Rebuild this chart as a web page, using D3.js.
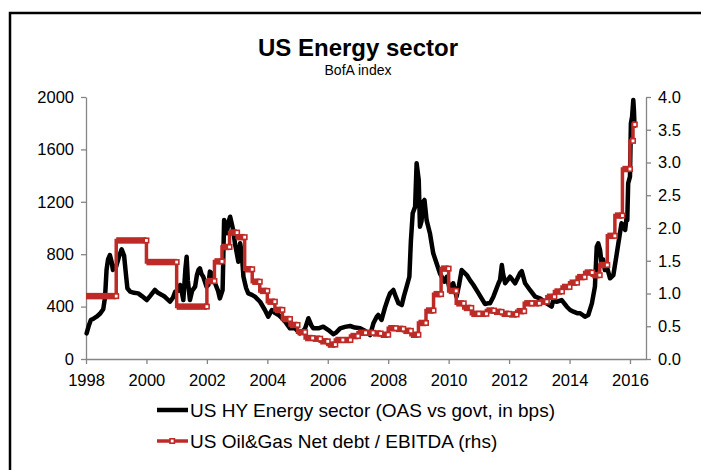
<!DOCTYPE html>
<html>
<head>
<meta charset="utf-8">
<script src="https://cdn.jsdelivr.net/npm/d3@7"></script>
<style>
  body { margin: 0; background: #fff; }
  svg { display: block; }
  text { font-family: "Liberation Sans", Arial, sans-serif; fill: #000; }
</style>
</head>
<body>
<svg id="chart" width="701" height="470"></svg>
<script>
// US HY Energy sector option-adjusted spread (bps), by decimal year
const oasYears = [
  1998.02, 1998.10, 1998.16, 1998.26, 1998.35, 1998.46, 1998.57, 1998.63, 1998.68, 1998.73,
  1998.79, 1998.85, 1998.89, 1998.99, 1999.09, 1999.18, 1999.26, 1999.32, 1999.37, 1999.46,
  1999.59, 1999.73, 1999.85, 2000.01, 2000.12, 2000.28, 2000.38, 2000.51, 2000.61, 2000.78,
  2000.88, 2000.95, 2001.04, 2001.11, 2001.17, 2001.22, 2001.29, 2001.33, 2001.37, 2001.44,
  2001.51, 2001.61, 2001.67, 2001.72, 2001.77, 2001.82, 2001.88, 2001.99, 2002.05, 2002.10,
  2002.16, 2002.27, 2002.37, 2002.43, 2002.52, 2002.57, 2002.62, 2002.66, 2002.72, 2002.77,
  2002.87, 2002.93, 2002.99, 2003.04, 2003.10, 2003.15, 2003.21, 2003.30, 2003.37, 2003.49,
  2003.59, 2003.76, 2003.92, 2004.03, 2004.15, 2004.26, 2004.37, 2004.49, 2004.59, 2004.75,
  2004.92, 2005.08, 2005.18, 2005.25, 2005.36, 2005.45, 2005.52, 2005.69, 2005.85, 2006.02,
  2006.18, 2006.27, 2006.41, 2006.57, 2006.74, 2006.90, 2007.07, 2007.23, 2007.40, 2007.51,
  2007.62, 2007.67, 2007.78, 2007.89, 2007.99, 2008.06, 2008.17, 2008.26, 2008.34, 2008.45,
  2008.52, 2008.61, 2008.70, 2008.75, 2008.81, 2008.89, 2008.94, 2009.01, 2009.05, 2009.10,
  2009.16, 2009.20, 2009.27, 2009.38, 2009.49, 2009.60, 2009.71, 2009.86, 2009.94, 2010.04,
  2010.15, 2010.26, 2010.34, 2010.43, 2010.60, 2010.71, 2010.82, 2010.94, 2011.09, 2011.20,
  2011.31, 2011.37, 2011.48, 2011.57, 2011.65, 2011.70, 2011.76, 2011.80, 2011.87, 2012.03,
  2012.20, 2012.36, 2012.42, 2012.53, 2012.69, 2012.86, 2013.02, 2013.24, 2013.41, 2013.46,
  2013.57, 2013.74, 2013.91, 2014.02, 2014.13, 2014.25, 2014.35, 2014.51, 2014.62, 2014.74,
  2014.84, 2014.90, 2014.95, 2015.01, 2015.06, 2015.11, 2015.17, 2015.24, 2015.34, 2015.45,
  2015.56, 2015.65, 2015.72, 2015.78, 2015.84, 2015.89, 2015.91, 2015.94, 2016.00, 2016.03,
  2016.07, 2016.11, 2016.13, 2016.15
];
const oasSpread = [
  196, 260, 298, 310, 323, 345, 380, 470, 680, 760,
  794, 740, 680, 700, 780, 837, 790, 650, 540, 514,
  505, 501, 480, 450, 480, 527, 505, 489, 475, 437,
  470, 514, 520, 565, 510, 450, 690, 781, 600, 450,
  520, 552, 640, 679, 692, 650, 628, 552, 565, 667,
  654, 578, 520, 463, 527, 1061, 1000, 960, 1050, 1086,
  985, 880, 807, 743, 883, 820, 628, 540, 501, 490,
  476, 437, 374, 323, 374, 350, 336, 310, 285, 234,
  234, 196, 215, 234, 311, 260, 234, 234, 247, 221,
  190, 200, 234, 245, 252, 240, 234, 215, 183, 272,
  323, 336, 298, 390, 460, 501, 527, 470, 425, 412,
  480, 552, 628, 900, 1112, 1163, 1494, 1366, 1010, 1050,
  1201, 1214, 1060, 960, 807, 731, 654, 590, 628, 527,
  578, 476, 560, 679, 641, 600, 565, 520, 463, 420,
  425, 425, 476, 530, 578, 603, 718, 650, 578, 628,
  578, 654, 670, 578, 527, 476, 463, 425, 400, 450,
  437, 450, 399, 374, 361, 350, 349, 323, 336, 425,
  552, 857, 883, 832, 731, 760, 679, 700, 616, 641,
  800, 934, 1036, 1010, 985, 1086, 1060, 1341, 1392, 1799,
  1850, 1977, 1900, 1780
];

// US Oil & Gas net debt / EBITDA: value holds from each start date to the next
const ratioStarts = [
  1998, 1999, 2000, 2001,
  2002.00, 2002.25, 2002.50, 2002.75, 2003.00, 2003.25, 2003.50, 2003.75,
  2004.00, 2004.25, 2004.50, 2004.75, 2005.00, 2005.25, 2005.50, 2005.75,
  2006.00, 2006.25, 2006.50, 2006.75, 2007.00, 2007.25, 2007.50, 2007.75,
  2008.00, 2008.25, 2008.50, 2008.75, 2009.00, 2009.25, 2009.50, 2009.75,
  2010.00, 2010.25, 2010.50, 2010.75, 2011.00, 2011.25, 2011.50, 2011.75,
  2012.00, 2012.25, 2012.50, 2012.75, 2013.00, 2013.25, 2013.50, 2013.75,
  2014.00, 2014.25, 2014.50, 2014.75, 2015.00, 2015.25, 2015.50, 2015.75,
  2016.00, 2016.10
];
const ratioValues = [
  0.96, 1.81, 1.48, 0.80,
  1.19, 1.49, 1.71, 1.93, 1.86, 1.37, 1.18, 1.04,
  0.875, 0.75, 0.61, 0.52, 0.41, 0.32, 0.31, 0.27,
  0.22, 0.29, 0.29, 0.35, 0.40, 0.40, 0.39, 0.37,
  0.47, 0.46, 0.43, 0.37, 0.55, 0.74, 0.99, 1.38,
  1.04, 0.85, 0.78, 0.69, 0.69, 0.74, 0.72, 0.69,
  0.68, 0.73, 0.85, 0.85, 0.875, 0.95, 1.03, 1.10,
  1.165, 1.25, 1.32, 1.28, 1.435, 1.88, 2.19, 2.90,
  3.33, 3.58
];
const ratioLastDate = 2016.16;

const spreadTicks = [0, 400, 800, 1200, 1600, 2000];
const ratioTicks = [0, 0.5, 1, 1.5, 2, 2.5, 3, 3.5, 4];
const yearTicks = [1998, 2000, 2002, 2004, 2006, 2008, 2010, 2012, 2014, 2016];

const titleText = "US Energy sector";
const subtitleText = "BofA index";
const seriesNames = [
  "US HY Energy sector (OAS vs govt, in bps)",
  "US Oil&Gas Net debt / EBITDA (rhs)"
];

// ---- drawing ----
const RED = "#BE2B27";
const AXIS = "#858585";
const FONT = "'Liberation Sans', Arial, sans-serif";
const svg = d3.select("#chart");

// outer frame
svg.append("rect")
  .attr("x", 10).attr("y", 13).attr("width", 720).attr("height", 480)
  .attr("fill", "none").attr("stroke", "#000").attr("stroke-width", 2.5);

const plot = { left: 86, right: 646, top: 97, bottom: 359 };

const x = d3.scaleLinear().domain([1998, 2016.53]).range([plot.left, plot.right]);
const yL = d3.scaleLinear().domain([0, 2000]).range([plot.bottom, plot.top]);
const yR = d3.scaleLinear().domain([0, 4]).range([plot.bottom, plot.top]);

// titles
svg.append("text").attr("x", 358).attr("y", 56)
  .attr("text-anchor", "middle").attr("font-weight", "bold").attr("font-size", 24)
  .text(titleText);
svg.append("text").attr("x", 358).attr("y", 75)
  .attr("text-anchor", "middle").attr("font-size", 14)
  .text(subtitleText);

// axes
function styleAxis(g) {
  g.selectAll("path.domain").attr("stroke", AXIS).attr("stroke-width", 1.3);
  g.selectAll(".tick line").attr("stroke", AXIS).attr("stroke-width", 1.3);
  g.selectAll(".tick text").attr("font-size", 16.5).attr("fill", "#000")
    .attr("font-family", FONT);
}

svg.append("g").attr("transform", `translate(${plot.left},0)`)
  .call(d3.axisLeft(yL).tickValues(spreadTicks).tickFormat(d3.format("d"))
    .tickSize(5).tickSizeOuter(0).tickPadding(7))
  .call(styleAxis);

svg.append("g").attr("transform", `translate(${plot.right},0)`)
  .call(d3.axisRight(yR).tickValues(ratioTicks).tickFormat(d3.format(".1f"))
    .tickSize(5).tickSizeOuter(0).tickPadding(7))
  .call(styleAxis);

svg.append("g").attr("transform", `translate(0,${plot.bottom})`)
  .call(d3.axisBottom(x).tickValues(yearTicks).tickFormat(d3.format("d"))
    .tickSize(5).tickSizeOuter(0).tickPadding(10))
  .call(styleAxis);

// spread line
const oasData = oasYears.map((t, i) => ({ t, v: oasSpread[i] }));
svg.append("path").datum(oasData)
  .attr("fill", "none").attr("stroke", "#000").attr("stroke-width", 4.5)
  .attr("stroke-linejoin", "round").attr("stroke-linecap", "round")
  .attr("d", d3.line().x(d => x(d.t)).y(d => yL(d.v)));

// leverage step line
const ratioData = ratioStarts.map((t, i) => ({
  t, v: ratioValues[i], end: i + 1 < ratioStarts.length ? ratioStarts[i + 1] : ratioLastDate
}));
const stepPts = ratioData.map(d => [d.t, d.v]).concat([[ratioLastDate, ratioValues[ratioValues.length - 1]]]);
const gR = svg.append("g");
gR.append("path").datum(stepPts)
  .attr("fill", "none").attr("stroke", RED).attr("stroke-width", 3.5)
  .attr("d", d3.line().curve(d3.curveStepAfter).x(d => x(d[0])).y(d => yR(d[1])));
// dense monthly markers fuse into a thick band along each level
gR.selectAll("line.band").data(ratioData).join("line").attr("class", "band")
  .attr("x1", d => x(d.t)).attr("x2", d => x(d.end))
  .attr("y1", d => yR(d.v)).attr("y2", d => yR(d.v))
  .attr("stroke", RED).attr("stroke-width", 6.5);
gR.selectAll("rect.mk").data(ratioData).join("rect").attr("class", "mk")
  .attr("x", d => x(d.end) - 2.2).attr("y", d => yR(d.v) - 2.2)
  .attr("width", 4.4).attr("height", 4.4)
  .attr("fill", "#fff").attr("stroke", RED).attr("stroke-width", 1.6);

// legend
const lg = svg.append("g");
lg.append("line").attr("x1", 157).attr("x2", 188).attr("y1", 410).attr("y2", 410)
  .attr("stroke", "#000").attr("stroke-width", 4.5);
lg.append("text").attr("x", 190).attr("y", 417).attr("font-size", 19).text(seriesNames[0]);
lg.append("line").attr("x1", 157).attr("x2", 188).attr("y1", 441).attr("y2", 441)
  .attr("stroke", RED).attr("stroke-width", 3.5);
lg.append("rect").attr("x", 170).attr("y", 438.8).attr("width", 4.4).attr("height", 4.4)
  .attr("fill", "#fff").attr("stroke", RED).attr("stroke-width", 1.6);
lg.append("text").attr("x", 190).attr("y", 448).attr("font-size", 19).text(seriesNames[1]);
</script>
</body>
</html>
